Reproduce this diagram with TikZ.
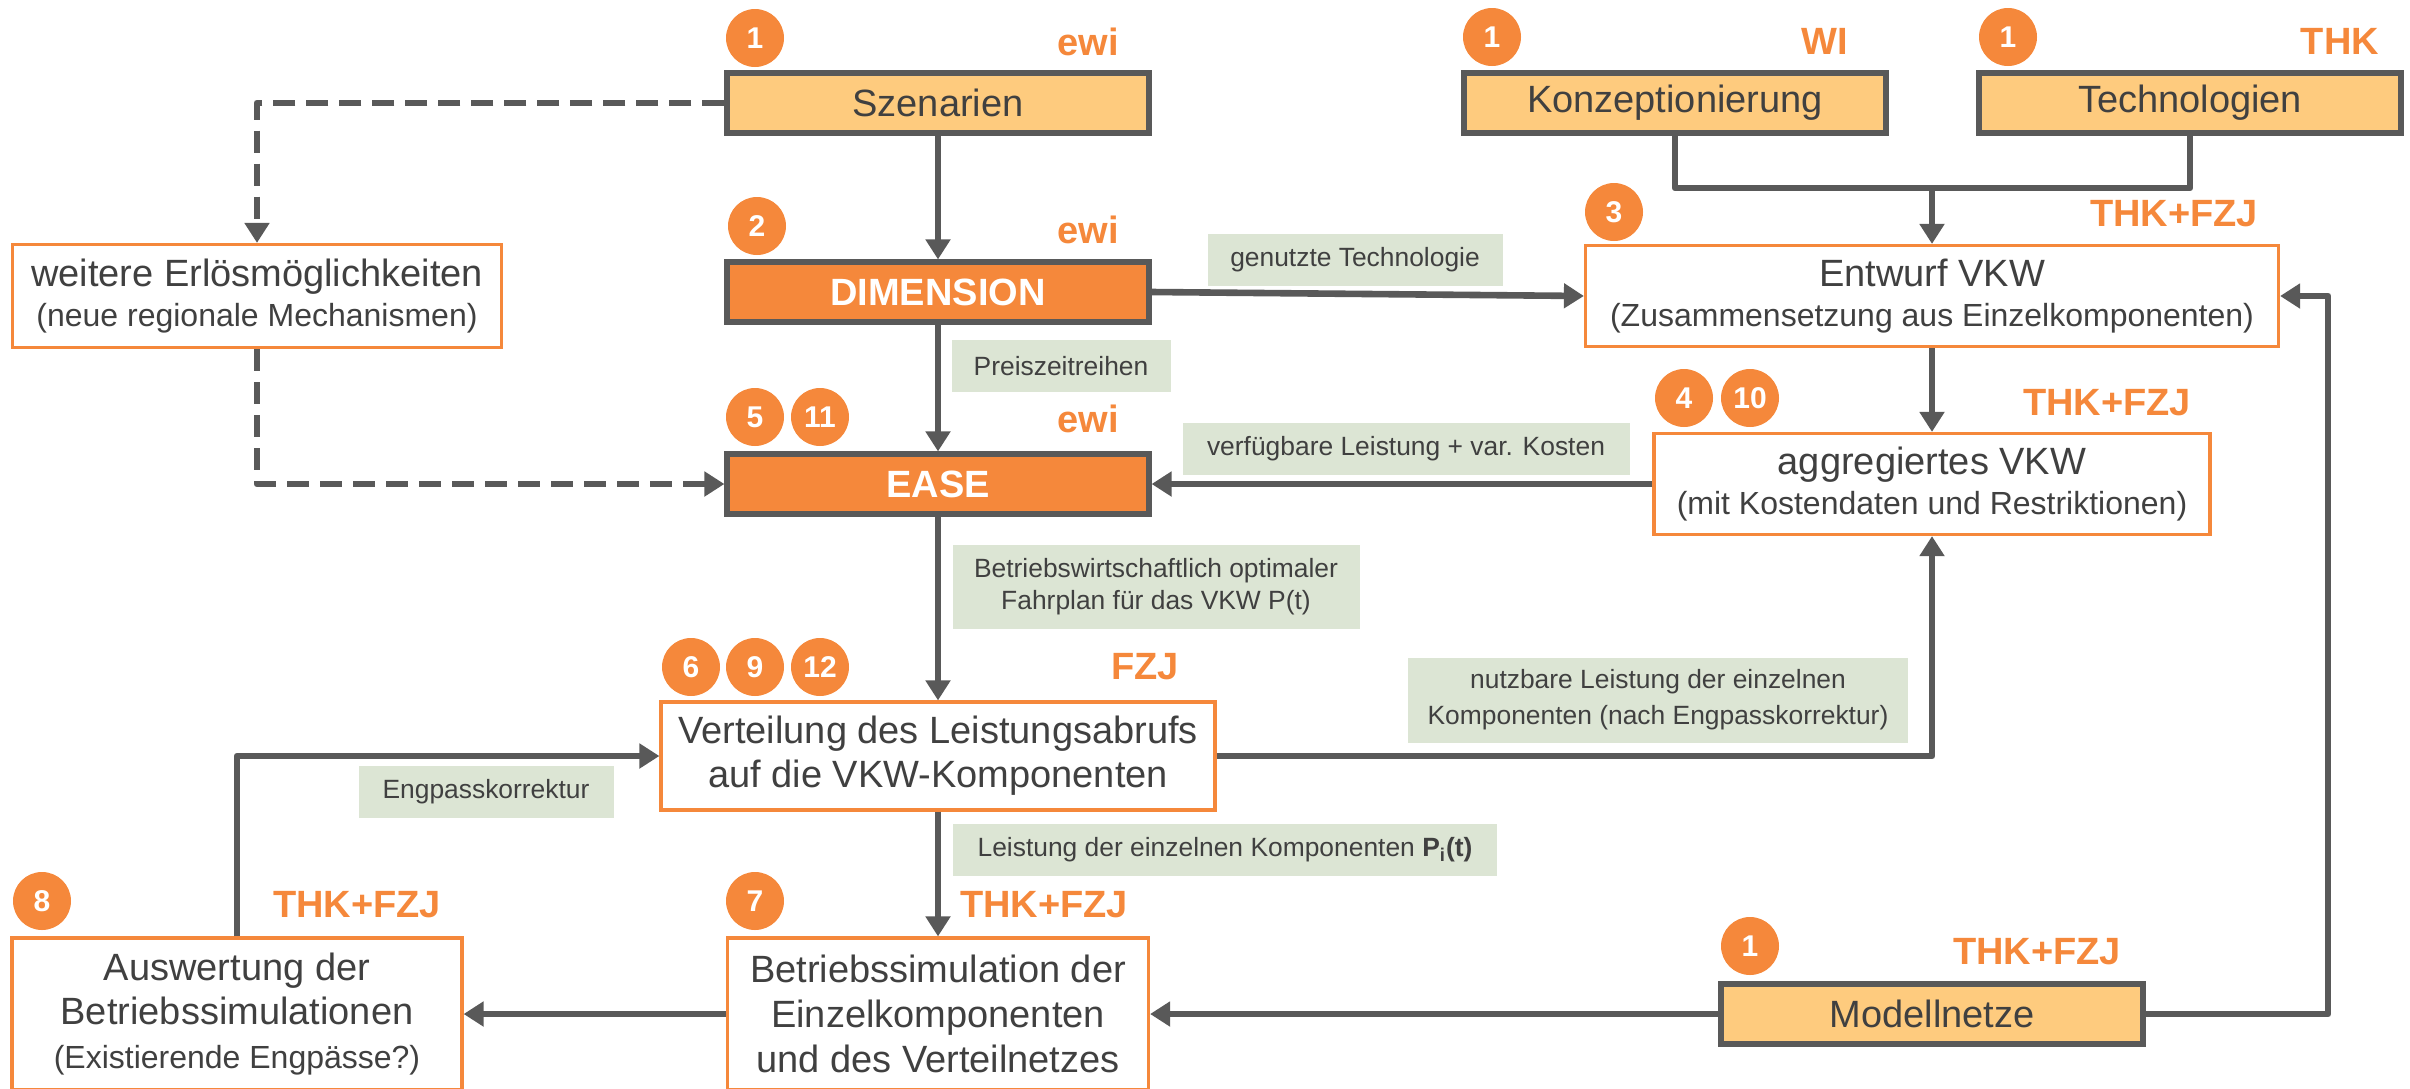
\documentclass[tikz,border=0pt]{standalone}
\usepackage{fontspec}
\setmainfont{Liberation Sans}
\usetikzlibrary{arrows.meta}
\definecolor{dgrey}{HTML}{595959}
\definecolor{txt}{HTML}{404040}
\definecolor{orng}{HTML}{F5883B}
\definecolor{lorng}{HTML}{FECB7E}
\definecolor{lgreen}{HTML}{DCE5D4}
\newcommand{\fMain}{\fontsize{19}{21}\selectfont}
\newcommand{\fSub}{\fontsize{16}{21}\selectfont}
\newcommand{\fLab}{\fontsize{13.2}{16}\selectfont}
\newcommand{\fOrg}{\fontsize{19}{21}\selectfont\bfseries}
\newcommand{\fNum}{\fontsize{15}{17}\selectfont\bfseries}
\begin{document}
\begin{tikzpicture}[x=0.5pt,y=-0.5pt,
  conn/.style={draw=dgrey,line width=3.3pt,line join=round,-{Triangle[length=10pt,width=12pt]}},
  plain/.style={draw=dgrey,line width=3.3pt,line join=round},
  dashconn/.style={conn,dash pattern=on 11pt off 5.5pt},
  darkbox/.style={draw=dgrey,line width=2.6pt,fill=lorng,text=txt,font=\fMain,
    minimum width=211pt,minimum height=30pt,inner sep=0pt},
  hotbox/.style={darkbox,fill=orng,text=white,font=\fMain\bfseries},
  obox/.style={draw=orng,line width=1.6pt,fill=white,text=txt,font=\fMain,align=center,inner sep=0pt},
  lab/.style={fill=lgreen,text=txt,font=\fLab,align=center,inner sep=0pt},
  num/.style={circle,fill=orng,text=white,font=\fNum,minimum size=29pt,inner sep=0pt},
  org/.style={text=orng,font=\fOrg,inner sep=0pt}]
\useasboundingbox (0,0) rectangle (2410,1088);

% dark-bordered boxes
\node[darkbox] (szen) at (938,103) {Szenarien};
\node[darkbox] (konz) at (1675,103) {Konzeptionierung};
\node[darkbox] (tech) at (2190,103) {Technologien};
\node[hotbox] (dim) at (938,292) {DIMENSION};
\node[hotbox] (ease) at (938,484) {EASE};
\node[darkbox] (modell) at (1932,1014) {Modellnetze};

% orange-bordered boxes
\node[obox,minimum width=244.5pt,minimum height=51.5pt] (weit) at (257,296)
  {weitere Erlösmöglichkeiten\\[-1pt]{\fSub (neue regionale Mechanismen)}};
\node[obox,minimum width=346.5pt,minimum height=50.5pt] (entw) at (1932,296)
  {Entwurf VKW\\[-1pt]{\fSub (Zusammensetzung aus Einzelkomponenten)}};
\node[obox,minimum width=278pt,minimum height=50.5pt] (aggr) at (1932,484)
  {aggregiertes VKW\\[-1pt]{\fSub (mit Kostendaten und Restriktionen)}};
\node[obox,minimum width=277pt,minimum height=54pt] (vert) at (938,756)
  {Verteilung des Leistungsabrufs\\[1pt]auf die VKW-Komponenten};
\node[obox,minimum width=225pt,minimum height=76pt] (ausw) at (237,1014)
  {Auswertung der\\[1pt]Betriebssimulationen\\[1pt]{\fSub (Existierende Engpässe?)}};
\node[obox,minimum width=210.5pt,minimum height=76pt] (betr) at (938,1014)
  {Betriebssimulation der\\[1.5pt]Einzelkomponenten\\[1.5pt]und des Verteilnetzes};

% circles
\node[num] (n1a) at (755,38) {1};
\node[num] (n1b) at (1492,37) {1};
\node[num] (n1c) at (2008,37) {1};
\node[num] (n2) at (757,226) {2};
\node[num] (n3) at (1614,212) {3};
\node[num] (n5) at (755,417) {5};
\node[num] (n11) at (820,417) {11};
\node[num] (n4) at (1684,398) {4};
\node[num] (n10) at (1750,398) {10};
\node[num] (n6) at (691,667) {6};
\node[num] (n9) at (755,667) {9};
\node[num] (n12) at (820,667) {12};
\node[num] (n8) at (42,901) {8};
\node[num] (n7) at (755,901) {7};
\node[num] (n1d) at (1750,946) {1};

% organisation labels
\node[org] (o1) at (1088,42) {ewi};
\node[org] (o2) at (1088,230) {ewi};
\node[org] (o3) at (1088,419) {ewi};
\node[org] (o4) at (1825,41) {WI};
\node[org] (o5) at (2340,41) {THK};
\node[org] (o6) at (2174,214) {THK+FZJ};
\node[org] (o7) at (2107,403) {THK+FZJ};
\node[org] (o8) at (1145,667) {FZJ};
\node[org] (o9) at (357,905) {THK+FZJ};
\node[org] (o10) at (1044,905) {THK+FZJ};
\node[org] (o11) at (2037,952) {THK+FZJ};

% green labels
\node[lab,minimum width=147.5pt,minimum height=26pt] (l1) at (1355,260) {genutzte Technologie};
\node[lab,minimum width=109.5pt,minimum height=26pt] (l2) at (1061,366) {Preiszeitreihen};
\node[lab,minimum width=223.5pt,minimum height=26pt] (l3) at (1406,449) {verfügbare Leistung + var. Kosten};
\node[lab,minimum width=203.5pt,minimum height=42pt] (l4) at (1156,587)
  {Betriebswirtschaftlich optimaler\\Fahrplan für das VKW P(t)};
\node[lab,minimum width=250pt,minimum height=42.5pt] (l5) at (1658,700)
  {nutzbare Leistung der einzelnen\\[2pt]Komponenten (nach Engpasskorrektur)};
\node[lab,minimum width=127.5pt,minimum height=26pt] (l6) at (486,792) {Engpasskorrektur};
\node[lab,minimum width=272pt,minimum height=26pt] (l7) at (1225,850)
  {Leistung der einzelnen Komponenten \textbf{P\textsubscript{i}(t)}};

% connectors
\coordinate (jn) at (1932,188);
\coordinate (rc) at (2328,296);
\draw[conn] (szen.south) -- (dim.north);
\draw[conn] (dim.south) -- (ease.north);
\draw[conn] (ease.south) -- (vert.north);
\draw[conn] (vert.south) -- (betr.north);
\draw[plain] (konz.south) |- (jn) -| (tech.south);
\draw[conn] (jn) -- (entw.north);
\draw[conn] (dim.east) -- (entw.west);
\draw[conn] (entw.south) -- (aggr.north);
\draw[conn] (aggr.west) -- (ease.east);
\draw[conn] (vert.east) -| (aggr.south);
\draw[conn] (modell.east) -| (rc) -- (entw.east);
\draw[conn] (modell.west) -- (betr.east);
\draw[conn] (betr.west) -- (ausw.east);
\draw[conn] (ausw.north) |- (vert.west);
\draw[dashconn] (szen.west) -| (weit.north);
\draw[dashconn] (weit.south) |- (ease.west);
\end{tikzpicture}
\end{document}
